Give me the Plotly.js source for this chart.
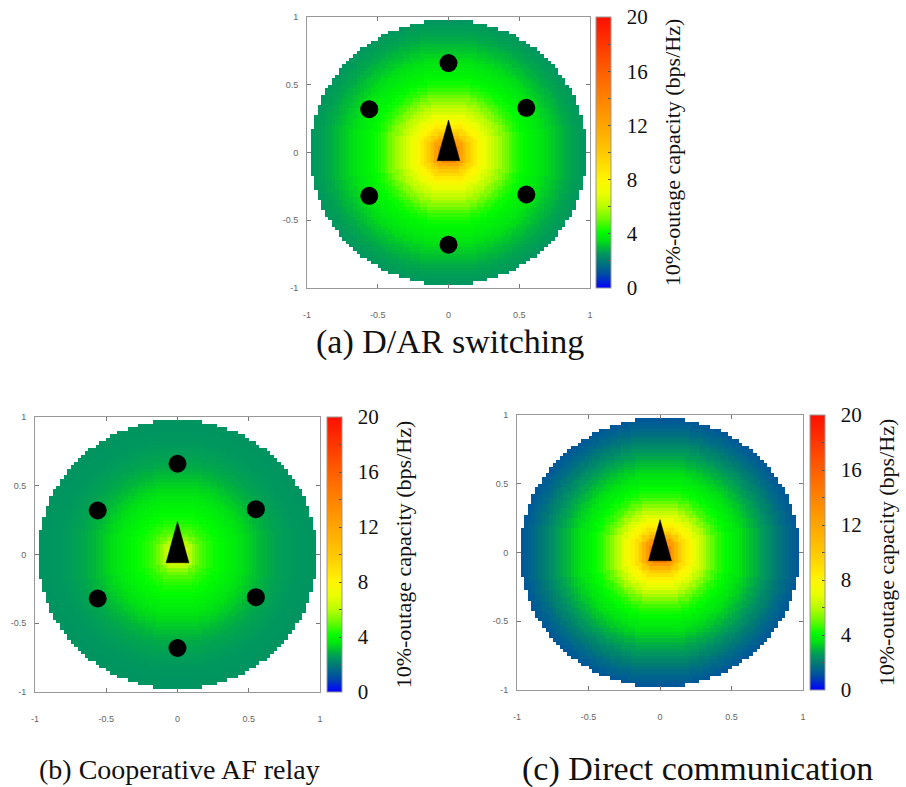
<!DOCTYPE html>
<html>
<head>
<meta charset="utf-8">
<script src="https://cdn.plot.ly/plotly-3.0.1.min.js"></script>
<style>
  html, body { margin: 0; padding: 0; background: #fff; }
  #chart { width: 906px; height: 787px; }
</style>
</head>
<body>
<div id="chart"></div>
<script>
// Radii (normalised cell radius) at which the capacity profiles are sampled
const PROFILE_RADII = [0.000, 0.025, 0.050, 0.075, 0.100, 0.125, 0.150, 0.175, 0.200, 0.225,
                       0.250, 0.275, 0.300, 0.325, 0.350, 0.375, 0.400, 0.425, 0.450, 0.475,
                       0.500, 0.525, 0.550, 0.575, 0.600, 0.625, 0.650, 0.675, 0.700, 0.725,
                       0.750, 0.775, 0.800, 0.825, 0.850, 0.875, 0.900, 0.925, 0.950, 0.975, 1.000];

// 10%-outage capacity (bps/Hz) versus distance from the base station
const CAP_DAR_SWITCHING = [16.5, 16.0, 15.0, 13.6, 12.2, 11.0, 10.0, 9.2, 8.5, 7.9,
                           7.4, 7.0, 6.6, 6.3, 6.0, 5.7, 5.4, 5.1, 4.8, 4.55,
                           4.35, 4.2, 4.05, 3.95, 3.85, 3.75, 3.65, 3.55, 3.45, 3.3,
                           3.2, 3.1, 3.0, 2.9, 2.8, 2.72, 2.65, 2.6, 2.55, 2.5, 2.5];
const CAP_COOP_AF = [8.5, 8.0, 7.3, 6.6, 6.0, 5.5, 5.1, 4.8, 4.6, 4.45,
                     4.3, 4.2, 4.1, 4.0, 3.92, 3.84, 3.75, 3.65, 3.55, 3.45,
                     3.35, 3.25, 3.15, 3.05, 2.96, 2.88, 2.8, 2.74, 2.69, 2.65,
                     2.61, 2.58, 2.55, 2.53, 2.51, 2.5, 2.49, 2.48, 2.47, 2.46, 2.45];
const CAP_DIRECT = [17.0, 16.5, 15.6, 14.2, 12.6, 11.2, 10.0, 9.0, 8.3, 7.7,
                    7.2, 6.7, 6.2, 5.8, 5.4, 5.0, 4.7, 4.45, 4.25, 4.1,
                    3.95, 3.8, 3.65, 3.5, 3.35, 3.2, 3.05, 2.9, 2.75, 2.6,
                    2.45, 2.3, 2.15, 2.0, 1.85, 1.7, 1.57, 1.45, 1.35, 1.25, 1.2];

// Relay stations (circles) and base station (triangle) positions
const RELAY_X = [0.0, -0.56, 0.55, -0.56, 0.55, 0.0];
const RELAY_Y = [0.66, 0.32, 0.33, -0.32, -0.31, -0.68];
const BS_X = [-0.08, 0.0, 0.08, -0.08];
const BS_Y = [-0.06, 0.24, -0.06, -0.06];

// Axis ticks and colour bar ticks
const AXIS_TICKS = [-1, -0.5, 0, 0.5, 1];
const AXIS_TICK_TEXT = ['-1', '-0.5', '0', '0.5', '1'];
const CBAR_TICKS = [0, 2, 4, 6, 8, 10, 12, 14, 16, 18, 20];
const CBAR_TICK_TEXT = ['0', '', '4', '', '8', '', '12', '', '16', '', '20'];

const CAPTIONS = ['(a) D/AR switching', '(b) Cooperative AF relay', '(c) Direct communication'];
const CBAR_TITLE = '10%-outage capacity (bps/Hz)';

// Cell grid over the square [-1, 1] x [-1, 1], disk of radius 0.98
const GRID_STEP = 0.025;
const DISK_RADIUS = 0.98;
const gridCenters = [];
for (let i = 0; i < 80; i++) gridCenters.push(-1 + GRID_STEP * (i + 0.5));

function diskField(profile) {
  const z = [];
  for (const y of gridCenters) {
    const row = [];
    for (const x of gridCenters) {
      const r = Math.sqrt(x * x + y * y);
      if (r > DISK_RADIUS) { row.push(null); continue; }
      // nearest sampled radius
      let best = 0;
      for (let k = 1; k < PROFILE_RADII.length; k++) {
        if (Math.abs(PROFILE_RADII[k] - r) < Math.abs(PROFILE_RADII[best] - r)) best = k;
      }
      row.push(profile[best]);
    }
    z.push(row);
  }
  return z;
}

const COLORSCALE = [
  [0.000, 'rgb(0,0,255)'],
  [0.050, 'rgb(0,75,165)'],
  [0.100, 'rgb(0,125,115)'],
  [0.125, 'rgb(0,150,95)'],
  [0.150, 'rgb(0,185,55)'],
  [0.175, 'rgb(0,225,20)'],
  [0.205, 'rgb(0,252,0)'],
  [0.250, 'rgb(100,250,0)'],
  [0.300, 'rgb(185,252,0)'],
  [0.350, 'rgb(235,254,0)'],
  [0.400, 'rgb(255,245,0)'],
  [0.500, 'rgb(255,200,0)'],
  [0.600, 'rgb(255,165,0)'],
  [0.700, 'rgb(255,130,0)'],
  [0.800, 'rgb(255,95,0)'],
  [0.900, 'rgb(255,55,0)'],
  [1.000, 'rgb(255,15,0)']
];

const W = 906, H = 787;
const SERIF = 'Liberation Serif, Times New Roman, serif';
const SANS = 'Liberation Sans, Arial, sans-serif';
const NB = '\u00a0\u00a0';   // spacing round the colour bar labels

// pixel boxes of the three panels: [left, right, top, bottom], colour bar left
const panels = [
  { profile: CAP_DAR_SWITCHING, box: [307, 590, 17, 288], cbx: 596, relays: true },
  { profile: CAP_COOP_AF,       box: [35, 320, 417, 692], cbx: 327, relays: true },
  { profile: CAP_DIRECT,        box: [517, 803, 415, 690], cbx: 810, relays: false }
];

const traces = [];
const layout = {
  width: W, height: H,
  margin: { l: 0, r: 0, t: 0, b: 0 },
  paper_bgcolor: '#fff', plot_bgcolor: '#fff',
  font: { family: SERIF, color: '#111' },
  showlegend: false,
  annotations: []
};

panels.forEach((p, i) => {
  const sfx = i === 0 ? '' : String(i + 1);
  const xa = 'x' + sfx, ya = 'y' + sfx;
  const [l, r, t, b] = p.box;

  traces.push({
    type: 'heatmap', xaxis: xa, yaxis: ya,
    x: gridCenters, y: gridCenters, z: diskField(p.profile),
    zmin: 0, zmax: 20, colorscale: COLORSCALE, zsmooth: false,
    hoverongaps: false,
    colorbar: {
      x: p.cbx / W, xanchor: 'left', xpad: 0,
      y: 1 - t / H, yanchor: 'top', ypad: 0,
      len: b - t, lenmode: 'pixels',
      thickness: 15, thicknessmode: 'pixels',
      outlinecolor: '#999', outlinewidth: 1,
      tickmode: 'array', tickvals: CBAR_TICKS,
      ticktext: CBAR_TICK_TEXT.map(s => s ? NB + s + NB : s),
      ticks: 'inside', ticklen: 3, tickcolor: '#555', tickwidth: 1,
      tickfont: { family: SERIF, size: 21, color: '#111' },
      title: { text: CBAR_TITLE, side: 'right', font: { family: SERIF, size: 22, color: '#111' } }
    }
  });

  if (p.relays) {
    traces.push({
      type: 'scatter', mode: 'markers', xaxis: xa, yaxis: ya,
      x: RELAY_X, y: RELAY_Y,
      marker: { color: '#000', size: 18, line: { width: 0 } },
      hoverinfo: 'skip'
    });
  }
  traces.push({
    type: 'scatter', mode: 'lines', xaxis: xa, yaxis: ya,
    x: BS_X, y: BS_Y, fill: 'toself', fillcolor: '#000',
    line: { color: '#000', width: 0.5 }, hoverinfo: 'skip'
  });

  const axisCommon = {
    range: [-1, 1], tickmode: 'array', tickvals: AXIS_TICKS, ticktext: AXIS_TICK_TEXT,
    ticks: 'inside', ticklen: 4, tickcolor: '#777', tickwidth: 1,
    showline: true, linecolor: '#999', linewidth: 1, mirror: 'ticks',
    showgrid: false, zeroline: false, fixedrange: true,
    tickfont: { family: SANS, size: 9, color: '#666' }
  };
  layout['xaxis' + sfx] = Object.assign({}, axisCommon, {
    domain: [l / W, r / W], anchor: ya, ticklabelstandoff: 18
  });
  layout['yaxis' + sfx] = Object.assign({}, axisCommon, {
    domain: [1 - b / H, 1 - t / H], anchor: xa, ticklabelstandoff: 6
  });
});

// panel captions
const captionPos = [[450, 342, 34], [179, 769, 28], [697, 769, 34]];
CAPTIONS.forEach((txt, i) => {
  const [cx, cy, fs] = captionPos[i];
  layout.annotations.push({
    text: txt, xref: 'paper', yref: 'paper',
    x: cx / W, y: 1 - cy / H, xanchor: 'center', yanchor: 'middle',
    showarrow: false, font: { family: SERIF, size: fs, color: '#111' }
  });
});

Plotly.newPlot('chart', traces, layout, { displayModeBar: false, staticPlot: true });
</script>
</body>
</html>
